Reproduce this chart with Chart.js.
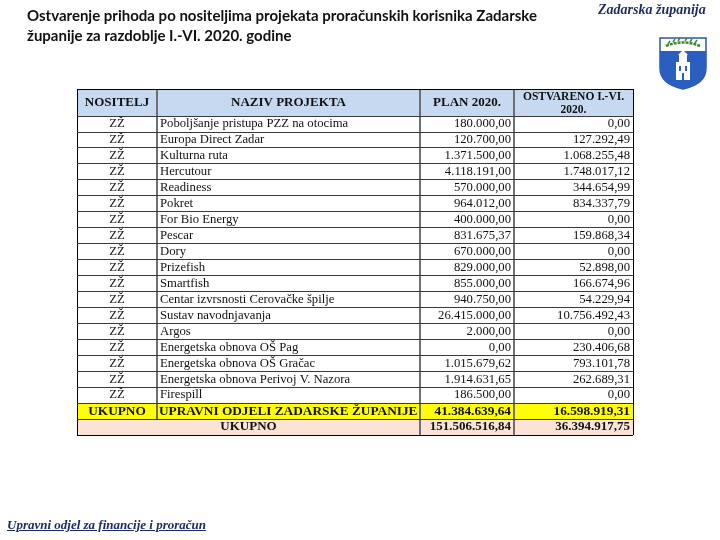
<!DOCTYPE html>
<html lang="hr">
<head>
<meta charset="UTF-8">
<title>Ostvarenje prihoda po nositeljima projekata</title>
<script src="https://cdn.jsdelivr.net/npm/chart.js@4"></script>
<style>
    body { margin: 0; background: #fff; }
    #slide { position: relative; width: 720px; height: 540px; overflow: hidden; }
    #slide canvas { position: absolute; left: 0; top: 0; }
    .title { position: absolute; left: 27px; top: 5px; font: bold 15px Lato, sans-serif; line-height: 20px; color: #111; }
    .county { position: absolute; left: 598px; top: 2px; font: italic bold 14px 'Liberation Serif', serif; color: #1c2b5e; }
    .footer { position: absolute; left: 7px; top: 517px; font: italic bold 13px 'Liberation Serif', serif; color: #1b2a6b; text-decoration: underline; }
    #crest { position: absolute; left: 658px; top: 36px; }
</style>
</head>
<body>
<div id="slide">
    <canvas id="chart" width="720" height="540"></canvas>
    <div class="title">Ostvarenje prihoda po nositeljima projekata proračunskih korisnika Zadarske<br>županije za razdoblje I.-VI. 2020. godine</div>
    <div class="county">Zadarska županija</div>
    <svg id="crest" width="50" height="55" viewBox="0 0 50 55">
        <path d="M2,2 H48 V32 Q48,48 25,53 Q2,48 2,32 Z" fill="#fff" stroke="#2a56b0" stroke-width="1.5"/>
        <path d="M2,15 H48 V32 Q48,48 25,53 Q2,48 2,32 Z" fill="#2a5fc0"/>
        <path d="M8,10 Q25,3 42,10" fill="none" stroke="#3c8a2e" stroke-width="2.5" stroke-dasharray="3 1"/>
        <path d="M10,8 l2,-3 M15,6 l2,-3 M20,5 l2,-3 M27,5 l2,-3 M32,6 l2,-3 M37,7 l2,-3" stroke="#3c8a2e" stroke-width="1.5"/>
        <rect x="18" y="26" width="14" height="18" fill="#fff"/>
        <rect x="21" y="19" width="8" height="8" fill="#fff"/>
        <path d="M20,19 L25,14 L30,19 Z" fill="#fff"/>
        <rect x="21" y="30" width="2" height="5" fill="#2a5fc0"/>
        <rect x="27" y="30" width="2" height="5" fill="#2a5fc0"/>
        <rect x="24" y="37" width="2" height="7" fill="#2a5fc0"/>
    </svg>
    <div class="footer">Upravni odjel za financije i proračun</div>
</div>

<script>
    // table content
    const headers = ['NOSITELJ', 'NAZIV PROJEKTA', 'PLAN 2020.', ['OSTVARENO I.-VI.', '2020.']];
    const owners = ['ZŽ', 'ZŽ', 'ZŽ', 'ZŽ', 'ZŽ', 'ZŽ', 'ZŽ', 'ZŽ', 'ZŽ', 'ZŽ', 'ZŽ', 'ZŽ', 'ZŽ', 'ZŽ', 'ZŽ', 'ZŽ', 'ZŽ', 'ZŽ'];
    const projects = [
        'Poboljšanje pristupa PZZ na otocima', 'Europa Direct Zadar', 'Kulturna ruta', 'Hercutour',
        'Readiness', 'Pokret', 'For Bio Energy', 'Pescar', 'Dory', 'Prizefish', 'Smartfish',
        'Centar izvrsnosti Cerovačke špilje', 'Sustav navodnjavanja', 'Argos',
        'Energetska obnova OŠ Pag', 'Energetska obnova OŠ Gračac', 'Energetska obnova Perivoj V. Nazora', 'Firespill'
    ];
    const plan = [180000, 120700, 1371500, 4118191, 570000, 964012, 400000, 831675.37, 670000,
        829000, 855000, 940750, 26415000, 2000, 0, 1015679.62, 1914631.65, 186500];
    const realised = [0, 127292.49, 1068255.48, 1748017.12, 344654.99, 834337.79, 0, 159868.34, 0,
        52898, 166674.96, 54229.94, 10756492.43, 0, 230406.68, 793101.78, 262689.31, 0];
    const totalRow = ['UKUPNO', 'UPRAVNI ODJELI ZADARSKE ŽUPANIJE', 41384639.64, 16598919.31];
    const grandRow = ['UKUPNO', 151506516.84, 36394917.75];

    // table geometry in axis units
    const colEdges = [0, 80, 343, 437, 556];
    const HEAD_H = 1.7;
    const nRows = projects.length + 2;
    const rowEdges = [0];
    for (let i = 0; i <= nRows; i++) rowEdges.push(HEAD_H + i);
    const xMax = colEdges[colEdges.length - 1];
    const yMax = rowEdges[rowEdges.length - 1];
    const totalTop = HEAD_H + projects.length;
    const grandTop = totalTop + 1;

    function fmt(v) {
        const parts = v.toFixed(2).split('.');
        return parts[0].replace(/\B(?=(\d{3})+(?!\d))/g, '.') + ',' + parts[1];
    }

    const tablePlugin = {
        id: 'tableCells',
        beforeDraw(chart) {
            const { ctx, scales: { x, y } } = chart;
            const band = (top, h, color) => {
                const y0 = y.getPixelForValue(top), y1 = y.getPixelForValue(top + h);
                ctx.fillStyle = color;
                ctx.fillRect(x.left, y0, x.right - x.left, y1 - y0);
            };
            band(0, HEAD_H, '#c6d9f1');
            band(totalTop, 1, '#ffff00');
            band(grandTop, 1, '#fbe4d6');
        },
        beforeDatasetsDraw(chart) {
            // first two cells of the last row are merged: hide the line between them
            const { ctx, scales: { x, y } } = chart;
            const y0 = Math.round(y.getPixelForValue(grandTop));
            const y1 = Math.round(y.getPixelForValue(grandTop + 1));
            const xa = Math.round(x.getPixelForValue(colEdges[0])) + 1;
            const xb = Math.round(x.getPixelForValue(colEdges[2])) - 1;
            ctx.fillStyle = '#fbe4d6';
            ctx.fillRect(xa, y0 + 1, xb - xa, y1 - y0 - 1);
            ctx.fillStyle = '#000';
            ctx.fillRect(xa, y1, xb - xa, 1);
            ctx.fillStyle = '#fff';
            ctx.fillRect(xa, y1 + 1, xb - xa, 2);
        },
        afterDraw(chart) {
            const { ctx, scales: { x, y } } = chart;
            const left = i => x.getPixelForValue(colEdges[i]);
            const mid = i => (left(i) + left(i + 1)) / 2;
            const rowMid = top => y.getPixelForValue(top + 0.5);
            ctx.save();
            ctx.fillStyle = '#111';
            ctx.textBaseline = 'middle';

            // header
            ctx.textAlign = 'center';
            const hMid = y.getPixelForValue(HEAD_H / 2);
            headers.forEach((h, i) => {
                if (Array.isArray(h)) {
                    ctx.font = 'bold 11.5px "Liberation Serif"';
                    ctx.fillText(h[0], mid(i), hMid - 6);
                    ctx.fillText(h[1], mid(i), hMid + 7);
                } else {
                    ctx.font = 'bold 13px "Liberation Serif"';
                    ctx.fillText(h, mid(i), hMid);
                }
            });

            // project rows
            ctx.font = '12.7px "Liberation Serif"';
            projects.forEach((p, r) => {
                const cy = rowMid(HEAD_H + r);
                ctx.textAlign = 'center';
                ctx.fillText(owners[r], mid(0), cy);
                ctx.textAlign = 'left';
                ctx.fillText(p, left(1) + 3, cy);
                ctx.textAlign = 'right';
                ctx.fillText(fmt(plan[r]), left(3) - 3, cy);
                ctx.fillText(fmt(realised[r]), left(4) - 3, cy);
            });

            // totals
            ctx.font = 'bold 13.3px "Liberation Serif"';
            let cy = rowMid(totalTop);
            ctx.textAlign = 'center';
            ctx.fillText(totalRow[0], mid(0), cy);
            ctx.textAlign = 'left';
            ctx.fillText(totalRow[1], left(1) + 2, cy);
            ctx.textAlign = 'right';
            ctx.fillText(fmt(totalRow[2]), left(3) - 3, cy);
            ctx.fillText(fmt(totalRow[3]), left(4) - 3, cy);

            ctx.font = 'bold 13px "Liberation Serif"';
            cy = rowMid(grandTop);
            ctx.textAlign = 'center';
            ctx.fillText(grandRow[0], (left(0) + left(2)) / 2, cy);
            ctx.textAlign = 'right';
            ctx.fillText(fmt(grandRow[1]), left(3) - 3, cy);
            ctx.fillText(fmt(grandRow[2]), left(4) - 3, cy);
            ctx.restore();
        }
    };

    const isEdge = (c, max) => c.tick && (c.tick.value === 0 || c.tick.value === max);

    new Chart(document.getElementById('chart'), {
        type: 'scatter',
        data: { datasets: [] },
        options: {
            responsive: false,
            animation: false,
            layout: { padding: { left: 77, right: 87, top: 89, bottom: 105 } },
            plugins: { legend: { display: false }, tooltip: { enabled: false } },
            scales: {
                x: {
                    type: 'linear', min: 0, max: xMax,
                    afterBuildTicks: s => { s.ticks = colEdges.map(v => ({ value: v })); },
                    ticks: { display: false },
                    border: { display: false },
                    grid: {
                        drawTicks: false,
                        color: c => isEdge(c, xMax) ? '#000' : '#6f6f6f',
                        lineWidth: c => isEdge(c, xMax) ? 1 : 2
                    }
                },
                y: {
                    type: 'linear', reverse: true, min: 0, max: yMax,
                    afterBuildTicks: s => { s.ticks = rowEdges.map(v => ({ value: v })); },
                    ticks: { display: false },
                    border: { display: false },
                    grid: {
                        drawTicks: false,
                        color: c => isEdge(c, yMax) ? '#000' : '#3a3a3a',
                        lineWidth: 1
                    }
                }
            }
        },
        plugins: [tablePlugin]
    });
</script>
</body>
</html>
